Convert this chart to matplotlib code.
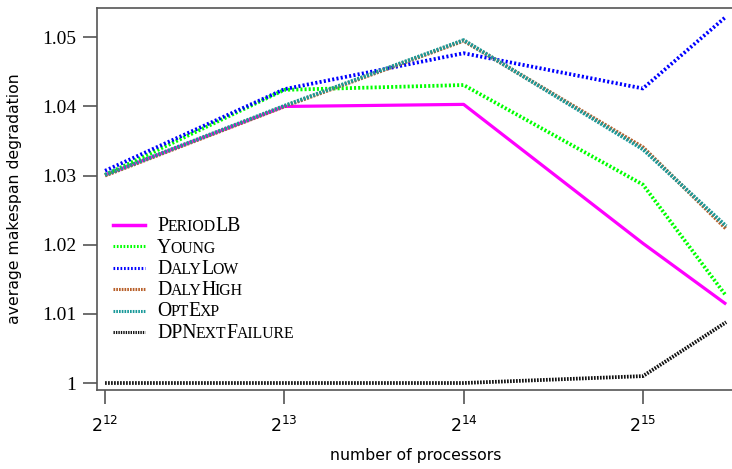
import numpy as np
import matplotlib
matplotlib.use("Agg")
import matplotlib.pyplot as plt
from matplotlib.lines import Line2D

# log2 of the number of processors (last point is 45208 processors)
procs = [4096, 8192, 16384, 32768, 45208]
xtick_exps = [12, 13, 14, 15]
ytick_vals = [1.0, 1.01, 1.02, 1.03, 1.04, 1.05]
ytick_labels = ['1', '1.01', '1.02', '1.03', '1.04', '1.05']

names = ['PeriodLB', 'Young', 'DalyLow', 'DalyHigh', 'OptExp', 'DPNextFailure']
period_lb = [1.0301, 1.0400, 1.0403, 1.0202, 1.0114]
young = [1.0301, 1.0424, 1.0431, 1.0287, 1.0126]
daly_low = [1.0307, 1.0425, 1.0477, 1.0426, 1.0530]
daly_high = [1.0300, 1.0400, 1.0495, 1.0341, 1.0223]
opt_exp = [1.0301, 1.0401, 1.0496, 1.0338, 1.0227]
dp_next = [1.0000, 1.0000, 1.0000, 1.0010, 1.0088]

series = [period_lb, young, daly_low, daly_high, opt_exp, dp_next]
colors = ['#ff00ff', '#00ff00', '#0000ff', '#b8602a', '#1a9a9a', '#111111']
styles = ['-', (0, (0.55, 0.55)), (0, (0.55, 0.6)), (0, (0.55, 0.35)),
          (0, (0.55, 0.35)), (0, (0.45, 0.35))]

W, H = 732, 469
fig = plt.figure(figsize=(W / 100, H / 100), dpi=100)
ax = fig.add_axes([97 / W, 1 - 390 / H, (W - 97 + 2) / W, (390 - 8) / H])

x = np.log2(procs)
for vals, c, ls in zip(series, colors, styles):
    ax.plot(x, vals, color=c, linestyle=ls, lw=2.3 if ls == '-' else 2.7,
            solid_capstyle='butt')

# axes limits so that 2^12 .. 2^15 and 1 .. 1.05 sit where the reference puts them
ax.set_xlim(11.955, 15.508)
ax.set_ylim(0.99899, 1.05424)

ax.spines['right'].set_visible(False)
for s in ['left', 'bottom', 'top']:
    ax.spines[s].set_color('#555555')
    ax.spines[s].set_linewidth(1.2)

ax.set_yticks(ytick_vals)
ax.set_yticklabels(ytick_labels, family='Liberation Serif', fontsize=14)
ax.set_xticks(xtick_exps)
ax.set_xticklabels([r'$\mathregular{2^{%d}}$' % e for e in xtick_exps],
                   family='DejaVu Sans', fontsize=12.5)
ax.tick_params(axis='both', direction='out', length=10, width=1.2, color='#555555')
ax.tick_params(axis='x', pad=9)
ax.tick_params(axis='y', pad=5)

ax.set_xlabel('number of processors', family='DejaVu Sans', fontsize=11.3, labelpad=8)
ax.set_ylabel('average makespan degradation', family='DejaVu Sans', fontsize=11.3, labelpad=14)

fig.canvas.draw()
renderer = fig.canvas.get_renderer()


def small_caps(label, x0, y0):
    # split into runs of capitals (big) and lowercase (drawn as smaller capitals)
    runs = []
    for ch in label:
        big = ch.isupper()
        if runs and runs[-1][1] == big:
            runs[-1][0] += ch
        else:
            runs.append([ch, big])
    xp = x0
    for txt, big in runs:
        size = 14.2 if big else 11.3
        t = fig.text(xp / W, 1 - y0 / H, txt.upper(), fontsize=size,
                     family='Liberation Serif', va='baseline', ha='left')
        xp += t.get_window_extent(renderer).width - 0.5


# hand-built legend (small caps labels)
row_y = [225, 246.5, 268, 289, 310.5, 331.5]
for name, c, ls, ry in zip(names, colors, styles, row_y):
    fig.add_artist(Line2D([113 / W, 145 / W], [1 - ry / H, 1 - ry / H],
                          color=c, linestyle=ls, lw=2.5 if ls == '-' else 2.2))
    small_caps(name, 157, ry + 6)

fig.savefig('out.png', dpi=100)
